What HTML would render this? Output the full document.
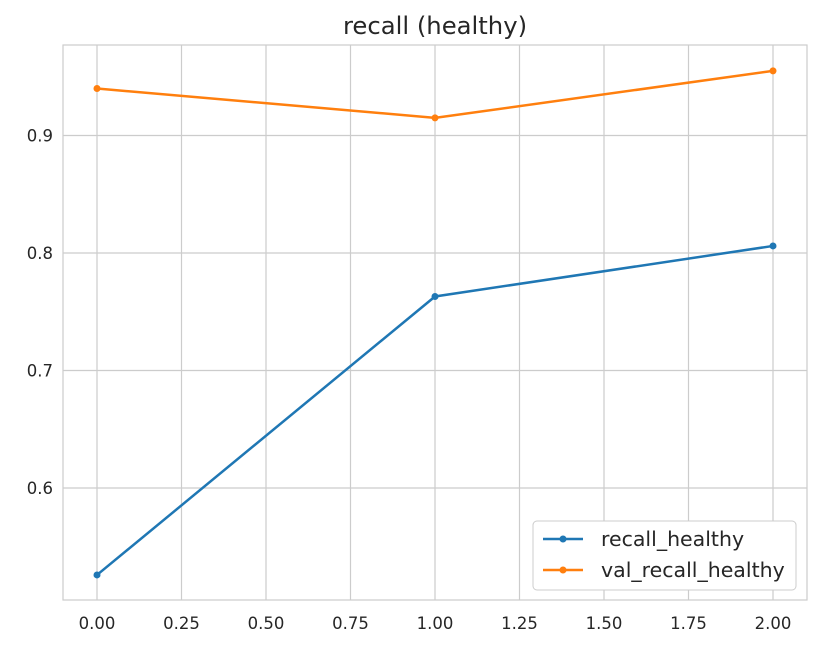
<!DOCTYPE html>
<html><head><meta charset="utf-8"><style>
body{margin:0;background:#fff;}
svg{display:block;font-family:"DejaVu Sans","Liberation Sans",sans-serif;}
</style></head><body>
<svg id="chart" width="821" height="650">
<rect x="63" y="45" width="744" height="555" fill="#fff" stroke="#ccc" stroke-width="1.2"/>
<g id="grid"></g><g id="ticks"></g><g id="series"></g>
<text x="435" y="34" text-anchor="middle" font-size="24.3" fill="#262626">recall (healthy)</text>
<g>
<rect x="533" y="521" width="263" height="69" rx="4" fill="#fff" stroke="#ccc"/>
<g>
<line x1="543" y1="539" x2="583" y2="539" stroke="#1f77b4" stroke-width="2.5"/><circle cx="563" cy="539" r="3.5" fill="#1f77b4"/>
<text x="601" y="546" font-size="20.5" fill="#262626">recall_healthy</text></g>
<g>
<line x1="543" y1="570" x2="583" y2="570" stroke="#ff7f0e" stroke-width="2.5"/><circle cx="563" cy="570" r="3.5" fill="#ff7f0e"/>
<text x="601" y="577" font-size="20.5" fill="#262626">val_recall_healthy</text></g>
</g>
</svg>
<script>
const epochs=[0,1,2];
const recallHealthy=[0.526,0.763,0.806];
const valRecallHealthy=[0.940,0.915,0.955];
const xTicks=[0,0.25,0.5,0.75,1,1.25,1.5,1.75,2];
const xTickLabels=["0.00","0.25","0.50","0.75","1.00","1.25","1.50","1.75","2.00"];
const yTicks=[0.6,0.7,0.8,0.9];
const yTickLabels=["0.6","0.7","0.8","0.9"];
const NS="http://www.w3.org/2000/svg";
const xs=v=>97+v*338;
const ys=v=>488-(v-0.6)*1175;
function mk(tag,attrs,parent){const e=document.createElementNS(NS,tag);for(const k in attrs)e.setAttribute(k,attrs[k]);parent.appendChild(e);return e;}
const grid=document.getElementById('grid'),ticks=document.getElementById('ticks'),ser=document.getElementById('series');
xTicks.forEach((t,i)=>{
 const l=mk('line',{x1:xs(t),x2:xs(t),y1:45,y2:600,stroke:'#ccc','stroke-width':1.2},grid);
 
 
 const tx=mk('text',{x:xs(t),y:629,'text-anchor':'middle','font-size':16.5,fill:'#262626'},ticks);
 tx.textContent=xTickLabels[i];
 
 
});
yTicks.forEach((t,i)=>{
 const l=mk('line',{x1:63,x2:807,y1:ys(t),y2:ys(t),stroke:'#ccc','stroke-width':1.2},grid);
 
 
 const tx=mk('text',{x:53,y:ys(t)+6,'text-anchor':'end','font-size':16.5,fill:'#262626'},ticks);
 tx.textContent=yTickLabels[i];
 
 
});
function drawSeries(vals,color,name){
 const p=mk('polyline',{points:epochs.map((e,i)=>xs(e)+','+ys(vals[i])).join(' '),fill:'none',stroke:color,'stroke-width':2.5},ser);
 
 
 epochs.forEach((e,i)=>{
  const c=mk('circle',{cx:xs(e),cy:ys(vals[i]),r:3.5,fill:color},ser);
  
  
 });
}
drawSeries(recallHealthy,'#1f77b4','recall-healthy');
drawSeries(valRecallHealthy,'#ff7f0e','val-recall-healthy');
</script>
</body></html>
